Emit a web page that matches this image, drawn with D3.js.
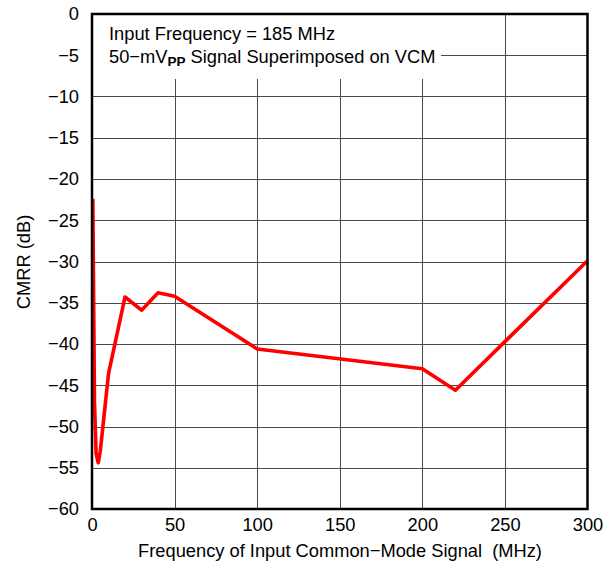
<!DOCTYPE html>
<html>
<head>
<meta charset="utf-8">
<script src="https://cdn.jsdelivr.net/npm/d3@7"></script>
<style>
  body { margin: 0; background: #fff; }
  svg { display: block; font-family: "Liberation Sans", Arial, sans-serif; }
</style>
</head>
<body>
<svg id="chart" width="614" height="562"></svg>
<script>
// CMRR versus frequency of the common-mode signal
const freqMHz = [0.5, 1.5, 2.5, 3.8, 5, 10, 20, 30, 40, 50, 100, 200, 220, 300];
const cmrrDb  = [-22.4, -47, -53.3, -54.4, -53, -43.6, -34.3, -35.9, -33.8, -34.2, -40.6, -43, -45.6, -29.9];

const xTicks = [0, 50, 100, 150, 200, 250, 300];
const yTicks = [0, -5, -10, -15, -20, -25, -30, -35, -40, -45, -50, -55, -60];

const svg = d3.select("#chart");
const L = 92, R = 587.5, T = 14, B = 509;
const FS = 18.3;

const x = d3.scaleLinear().domain([0, 300]).range([L, R]);
const y = d3.scaleLinear().domain([-60, 0]).range([B, T]);

// grid
const grid = svg.append("g").attr("stroke", "#4a4a4a").attr("stroke-width", 1);
grid.selectAll("line.v").data(xTicks.slice(1, -1)).enter().append("line")
  .attr("x1", d => Math.round(x(d)) + 0.5).attr("x2", d => Math.round(x(d)) + 0.5)
  .attr("y1", T).attr("y2", B);
grid.selectAll("line.h").data(yTicks.slice(1, -1)).enter().append("line")
  .attr("x1", L).attr("x2", R)
  .attr("y1", d => Math.round(y(d)) + 0.5).attr("y2", d => Math.round(y(d)) + 0.5);

// annotation box masks the grid behind the text
svg.append("rect").attr("x", L + 1).attr("y", T + 1).attr("width", 348).attr("height", 64).attr("fill", "#fff");

const note = svg.append("g").attr("font-size", FS).attr("fill", "#000");
note.append("text").attr("x", 109).attr("y", 40).text("Input Frequency = 185 MHz");
const t2 = note.append("text").attr("x", 109).attr("y", 63);
t2.append("tspan").text("50\u2212mV");
t2.append("tspan").attr("font-weight", "bold").attr("font-size", 13.5).attr("dy", 3).text("PP");
t2.append("tspan").attr("dy", -3).text(" Signal Superimposed on VCM");

// curve
const line = d3.line().x((d, i) => x(freqMHz[i])).y(d => y(d));
svg.append("path").datum(cmrrDb).attr("d", line)
  .attr("fill", "none").attr("stroke", "#ff0000").attr("stroke-width", 3.6)
  .attr("stroke-linejoin", "round").attr("stroke-linecap", "butt");

// frame
svg.append("rect").attr("x", L).attr("y", T).attr("width", R - L).attr("height", B - T)
  .attr("fill", "none").attr("stroke", "#000").attr("stroke-width", 2.5);

// axes (labels only)
const xAxis = d3.axisBottom(x).tickValues(xTicks).tickSize(0).tickPadding(9)
  .tickFormat(d3.format("d"));
const gx = svg.append("g").attr("transform", `translate(0,${B})`).call(xAxis);
gx.select(".domain").remove();
gx.selectAll("text").attr("font-size", FS).attr("fill", "#000").attr("font-family", null);

const yAxis = d3.axisLeft(y).tickValues(yTicks).tickSize(0).tickPadding(13)
  .tickFormat(d => d === 0 ? "0" : "\u2212" + Math.abs(d));
const gy = svg.append("g").attr("transform", `translate(${L},0)`).call(yAxis);
gy.select(".domain").remove();
gy.selectAll("text").attr("font-size", FS).attr("fill", "#000").attr("font-family", null);

svg.append("text").attr("x", 340).attr("y", 557).attr("text-anchor", "middle")
  .attr("font-size", FS).style("white-space", "pre")
  .text("Frequency of Input Common\u2212Mode Signal  (MHz)");
svg.append("text").attr("transform", "translate(30,262) rotate(-90)").attr("text-anchor", "middle")
  .attr("font-size", FS).text("CMRR (dB)");
</script>
</body>
</html>
